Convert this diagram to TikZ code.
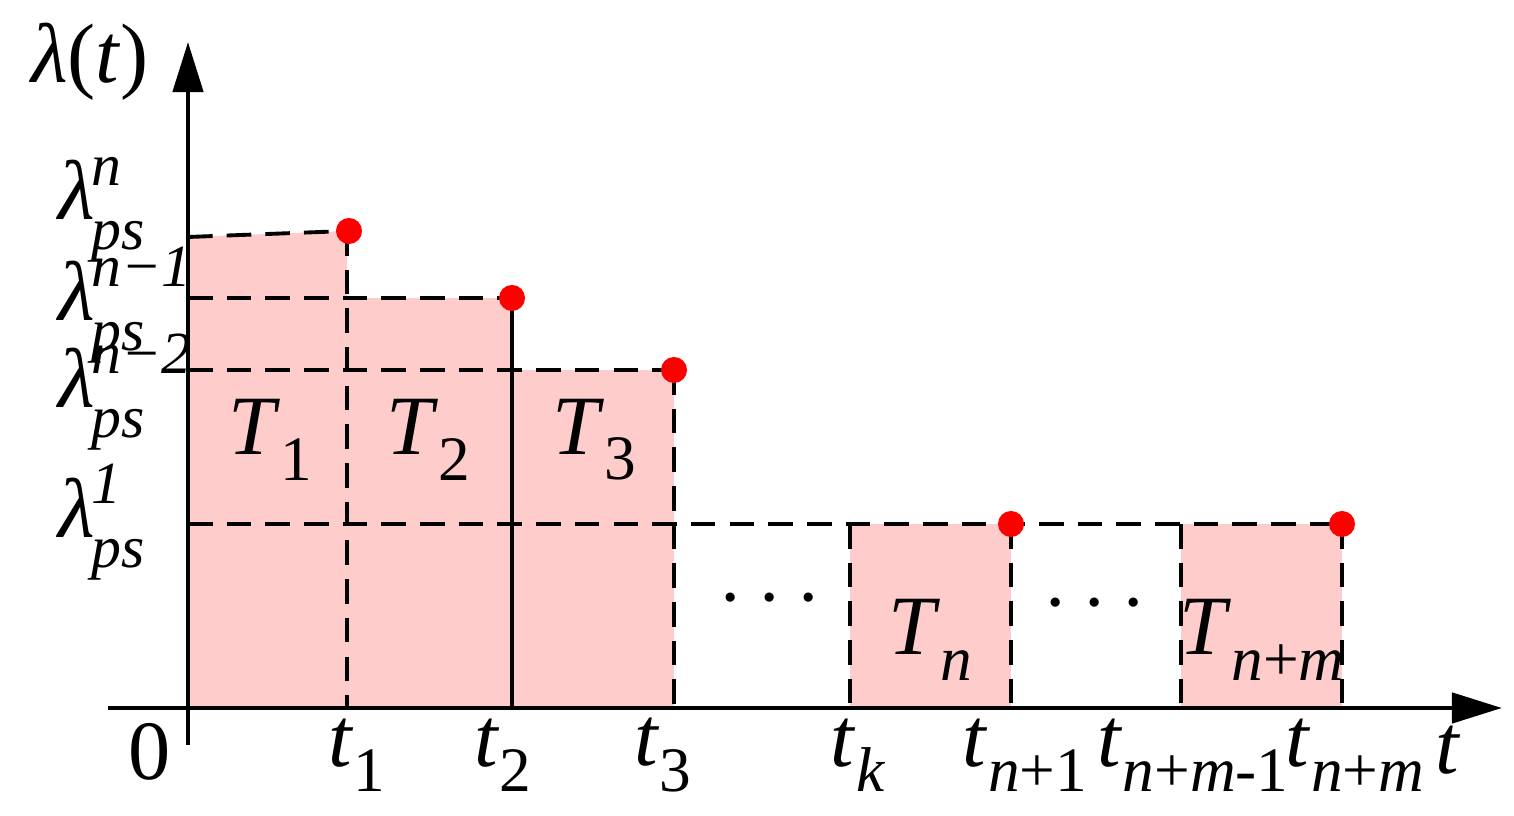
\documentclass[tikz,border=0pt]{standalone}
\usepackage{fontspec}
\setmainfont{LiberationSerif}[Extension=.ttf,UprightFont=*-Regular,ItalicFont=*-Italic,BoldFont=*-Bold]
\usetikzlibrary{arrows.meta}
\definecolor{barpink}{HTML}{FFCCCC}
\newcommand\lab[2]{\textit{#1}\raisebox{-0.3em}{\fontsize{18}{18}\selectfont #2}}
\newcommand\lps[1]{\textit{λ}\hspace{-1pt}\rlap{\raisebox{0.4em}{\fontsize{17}{17}\selectfont\textit{#1}}}\raisebox{-0.36em}{\fontsize{17}{17}\selectfont\textit{ps}}}
\begin{document}
\begin{tikzpicture}[x=0.01cm,y=-0.01cm,
  dsh/.style={line width=1.1pt,dash pattern=on 7pt off 4pt},
  dot/.style={circle,fill=red,inner sep=0pt,minimum size=0.26cm},
  txt/.style={font=\fontsize{24}{24}\selectfont,inner sep=0pt},
  ax/.style={line width=1.3pt,-{Triangle[length=0.5cm,width=0.3cm]}}]
\useasboundingbox (0,0) rectangle (1514,816);
\fill[barpink] (188,237) -- (347,231) -- (347,708) -- (188,708) -- cycle;
\fill[barpink] (347,298) rectangle (512,708);
\fill[barpink] (512,370) rectangle (674,708);
\fill[barpink] (850,524) rectangle (1011,708);
\fill[barpink] (1181,524) rectangle (1342,708);
\coordinate (o) at (188,745);
\coordinate (ytip) at (188,42);
\coordinate (xs) at (108,708);
\coordinate (xtip) at (1502,708);
\draw[dsh] (188,237) -- (347,231);
\draw[dsh] (188,298) -- (512,298);
\draw[dsh] (188,370) -- (674,370);
\draw[dsh] (188,524) -- (1342,524);
\draw[dsh] (347,231) -- (347,708);
\draw[line width=1.1pt] (512,298) -- (512,708);
\draw[dsh] (674,370) -- (674,708);
\draw[dsh] (850,524) -- (850,708);
\draw[dsh] (1011,524) -- (1011,708);
\draw[dsh] (1181,524) -- (1181,708);
\draw[dsh] (1342,524) -- (1342,708);
\draw[ax] (o) -- (ytip);
\draw[ax] (xs) -- (xtip);
\node[dot] (d1) at (349,231) {};
\node[dot] (d2) at (512,298) {};
\node[dot] (d3) at (674,370) {};
\node[dot] (d4) at (1011,524) {};
\node[dot] (d5) at (1342,524) {};
\node[txt] (T1) at (270,440) {\lab{T}{1}};
\node[txt] (T2) at (428,440) {\lab{T}{2}};
\node[txt] (T3) at (594,440) {\lab{T}{3}};
\node[txt] (Tn) at (930,640) {\lab{T}{\textit{n}}};
\node[txt] (Tnm) at (1262,640) {\lab{T}{\textit{n}+\textit{m}}};
\node[txt] (e1) at (770,600) {$\cdots$};
\node[txt] (e2) at (1095,605) {$\cdots$};
\node[txt] (zero) at (150,752) {0};
\node[txt] (t1) at (357,755) {\lab{t}{1}};
\node[txt] (t2) at (503,755) {\lab{t}{2}};
\node[txt] (t3) at (663,755) {\lab{t}{3}};
\node[txt] (tk) at (858,755) {\lab{t}{\textit{k}}};
\node[txt] (tn1) at (1025,755) {\lab{t}{\textit{n}+1}};
\node[txt] (tnm1) at (1193,755) {\lab{t}{\textit{n}+\textit{m}-1}};
\node[txt] (tnm) at (1355,755) {\lab{t}{\textit{n}+\textit{m}}};
\node[txt] (tt) at (1448,750) {\textit{t}};
\node[txt] (lam) at (90,62) {\textit{λ}(\textit{t})};
\node[txt,anchor=west] (l1) at (58,210) {\lps{n}};
\node[txt,anchor=west] (l2) at (58,305) {\lps{n−1}};
\node[txt,anchor=west] (l3) at (58,392) {\lps{n−2}};
\node[txt,anchor=west] (l4) at (58,522) {\lps{1}};
\end{tikzpicture}
\end{document}
